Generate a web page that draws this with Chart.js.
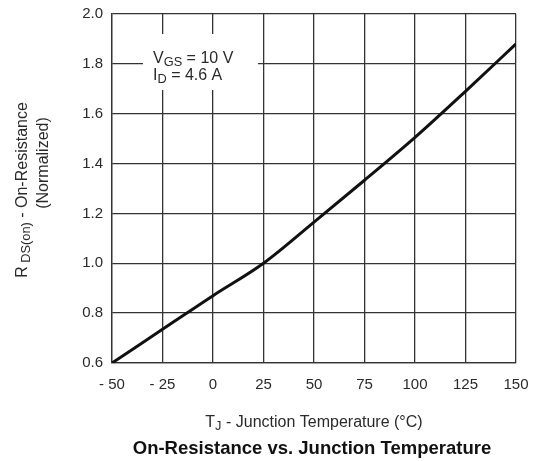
<!DOCTYPE html>
<html>
<head>
<meta charset="utf-8">
<script src="https://cdn.jsdelivr.net/npm/chart.js@4"></script>
<style>
  html, body { margin: 0; padding: 0; background: #fff; }
  #wrap { width: 534px; height: 461px; }
</style>
</head>
<body>
<div id="wrap"><canvas id="myChart" width="534" height="461"></canvas></div>
<script>
// Normalized on-resistance vs junction temperature
const tempsC = [-50, -25, 0, 25, 50, 75, 100, 125, 150];
const rdsOnNorm = [0.60, 0.735, 0.87, 1.0, 1.165, 1.333, 1.505, 1.69, 1.88];

const xTickValues = [-50, -25, 0, 25, 50, 75, 100, 125, 150];
const yTickValues = [0.6, 0.8, 1.0, 1.2, 1.4, 1.6, 1.8, 2.0];

const condition1 = [['V', false], ['GS', true], [' = 10 V', false]];
const condition2 = [['I', false], ['D', true], [' = 4.6 A', false]];
const yTitle1 = [['R', false], [' DS(on)', true], [' - On-Resistance', false]];
const yTitle2 = [['(Normalized)', false]];
const xTitle = [['T', false], ['J', true], [' - Junction Temperature (°C)', false]];
const chartTitle = 'On-Resistance vs. Junction Temperature';

const FONT = 'Arial, "Liberation Sans", sans-serif';
const TEXT_COLOR = '#2a2a2a';

// text runs with subscripts
function runsWidth(ctx, runs, size) {
  let w = 0;
  runs.forEach(([t, sub]) => {
    ctx.font = (sub ? size * 0.8 : size) + 'px ' + FONT;
    w += ctx.measureText(t).width;
  });
  return w;
}
function drawRuns(ctx, runs, x, y, size, align) {
  let cx = align === 'center' ? x - runsWidth(ctx, runs, size) / 2 : x;
  ctx.textAlign = 'left';
  ctx.textBaseline = 'alphabetic';
  runs.forEach(([t, sub]) => {
    ctx.font = (sub ? size * 0.8 : size) + 'px ' + FONT;
    ctx.fillText(t, cx, sub ? y + 3 : y);
    cx += ctx.measureText(t).width;
  });
}

const labelsPlugin = {
  id: 'labelsPlugin',
  beforeDatasetsDraw(chart) {
    const ctx = chart.ctx;
    ctx.save();
    // white box behind the test conditions
    ctx.fillStyle = '#fff';
    ctx.fillRect(143, 34, 115, 56);
    ctx.fillStyle = TEXT_COLOR;
    drawRuns(ctx, condition1, 153, 63, 16, 'left');
    drawRuns(ctx, condition2, 153, 80, 16, 'left');
    ctx.restore();
  },
  afterDraw(chart) {
    const ctx = chart.ctx;
    ctx.save();
    ctx.fillStyle = TEXT_COLOR;
    // y axis title, two rotated lines
    ctx.save();
    ctx.translate(27, 190);
    ctx.rotate(-Math.PI / 2);
    drawRuns(ctx, yTitle1, 0, 0, 16, 'center');
    ctx.restore();
    ctx.save();
    ctx.translate(48, 163);
    ctx.rotate(-Math.PI / 2);
    drawRuns(ctx, yTitle2, 0, 0, 16, 'center');
    ctx.restore();
    // x axis title
    drawRuns(ctx, xTitle, 314, 427, 16, 'center');
    // caption
    ctx.font = 'bold 18.5px ' + FONT;
    ctx.textAlign = 'center';
    ctx.fillStyle = '#111';
    ctx.fillText(chartTitle, 312, 454);
    ctx.restore();
  }
};

document.addEventListener('DOMContentLoaded', function () {
  const points = tempsC.map((t, i) => ({ x: t, y: rdsOnNorm[i] }));

  const config = {
    type: 'line',
    data: {
      datasets: [{
        data: points,
        borderColor: '#111',
        borderWidth: 3,
        pointRadius: 0,
        fill: false,
        cubicInterpolationMode: 'monotone',
      }]
    },
    options: {
      responsive: false,
      animation: false,
      events: [],
      layout: { padding: { left: 0, right: 18, top: 14, bottom: 0 } },
      plugins: {
        legend: { display: false },
        tooltip: { enabled: false },
      },
      scales: {
        x: {
          type: 'linear',
          min: -50,
          max: 150,
          afterBuildTicks: axis => { axis.ticks = xTickValues.map(v => ({ value: v })); },
          afterFit: axis => {
            axis.height = 98;
            axis.paddingLeft = 0;
            axis.paddingRight = 0;
          },
          grid: { color: '#333', lineWidth: 1.3, drawTicks: false },
          border: { color: '#333', width: 1.3 },
          ticks: {
            padding: 13,
            maxRotation: 0,
            color: TEXT_COLOR,
            font: { family: FONT, size: 15 },
            callback: v => v < 0 ? '- ' + Math.abs(v) : String(v),
          },
        },
        y: {
          type: 'linear',
          min: 0.6,
          max: 2.0,
          afterBuildTicks: axis => { axis.ticks = yTickValues.map(v => ({ value: v })); },
          afterFit: axis => {
            axis.width = 112;
            axis.paddingTop = 0;
            axis.paddingBottom = 0;
          },
          grid: { color: '#333', lineWidth: 1.3, drawTicks: false },
          border: { color: '#333', width: 1.3 },
          ticks: {
            padding: 9,
            color: TEXT_COLOR,
            font: { family: FONT, size: 15 },
            callback: v => Number(v).toFixed(1),
          },
        },
      },
    },
    plugins: [labelsPlugin],
  };

  new Chart(document.getElementById('myChart').getContext('2d'), config);
});
</script>
</body>
</html>
